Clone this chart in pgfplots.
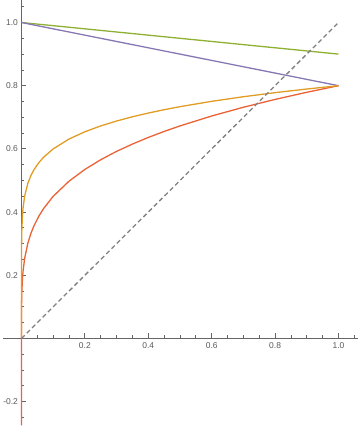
\documentclass[border=0pt]{standalone}
\usepackage{pgfplots}
\pgfplotsset{compat=1.18}
\usepackage{fontspec}
\setmainfont{Liberation Sans}
\definecolor{mmyellow}{rgb}{0.880722,0.611041,0.142051}
\definecolor{mmgreen}{rgb}{0.560181,0.691569,0.194885}
\definecolor{mmred}{rgb}{0.922526,0.385626,0.209179}
\definecolor{mmpurple}{rgb}{0.528488,0.470624,0.701351}
\definecolor{axgray}{rgb}{0.40,0.40,0.40}
\definecolor{lblgray}{rgb}{0.35,0.35,0.35}
\begin{document}
\begin{tikzpicture}
\begin{axis}[
  scale only axis,
  width=355pt, height=426pt,
  axis lines=middle,
  xmin=-0.057, xmax=1.06,
  ymin=-0.275, ymax=1.07,
  xtick={0.2,0.4,0.6,0.8,1.0},
  ytick={-0.2,0.2,0.4,0.6,0.8,1.0},
  xticklabels={0.2,0.4,0.6,0.8,1.0},
  yticklabels={-0.2,0.2,0.4,0.6,0.8,1.0},
  minor xtick={0.05,0.1,0.15,0.25,0.3,0.35,0.45,0.5,0.55,0.65,0.7,0.75,0.85,0.9,0.95,1.05},
  minor ytick={-0.25,-0.15,-0.1,-0.05,0.05,0.1,0.15,0.25,0.3,0.35,0.45,0.5,0.55,0.65,0.7,0.75,0.85,0.9,0.95,1.05},
  tick align=inside,
  major tick length=5pt,
  minor tick length=3pt,
  axis line style={axgray, line width=0.8pt, -},
  every tick/.style={axgray, line width=0.8pt},
  tick label style={font=\fontsize{8.5}{10}\selectfont, text=lblgray},
  xticklabel style={yshift=-1pt},
  /pgf/number format/assume math mode=true,
  clip=false,
]
% green line
\addplot[mmgreen, line width=1.3pt] coordinates {(0,1) (1,0.9)};
% purple line
\addplot[mmpurple, line width=1.3pt] coordinates {(0,1) (1,0.8)};
% red curve
\addplot[mmred, line width=1.3pt] coordinates {
(0,-0.275) (0,0) (0.00001,0.045) (0.0001,0.08) (0.0003,0.1053) (0.001,0.1423) (0.003,0.1872)
(0.005,0.2127) (0.01,0.2530) (0.02,0.3009) (0.03,0.3330) (0.04,0.3578) (0.055,0.3874)
(0.07,0.4115) (0.1,0.4499) (0.15,0.4978) (0.2,0.5350) (0.25,0.5657) (0.3,0.5921)
(0.35,0.6153) (0.4,0.6362) (0.45,0.6552) (0.5,0.6727) (0.6,0.7041) (0.7,0.7318)
(0.8,0.7566) (0.9,0.7792) (1,0.8)};
% yellow curve
\addplot[mmyellow, line width=1.3pt] coordinates {
(0,0) (0,0.10) (0.00001,0.1897) (0.0001,0.2530) (0.0003,0.2902) (0.001,0.3374) (0.003,0.3870)
(0.005,0.4125) (0.01,0.4499) (0.02,0.4906) (0.03,0.5161) (0.04,0.5350) (0.055,0.5567)
(0.07,0.5738) (0.1,0.5999) (0.15,0.6311) (0.2,0.6542) (0.25,0.6727) (0.3,0.6882)
(0.35,0.7016) (0.4,0.7134) (0.45,0.7240) (0.5,0.7336) (0.6,0.7505) (0.7,0.7651)
(0.8,0.7780) (0.9,0.7895) (1,0.8)};
% dashed identity
\addplot[gray, line width=1.3pt, dash pattern=on 4.5pt off 3pt] coordinates {(0,0) (1,1)};
\end{axis}
\end{tikzpicture}
\end{document}
